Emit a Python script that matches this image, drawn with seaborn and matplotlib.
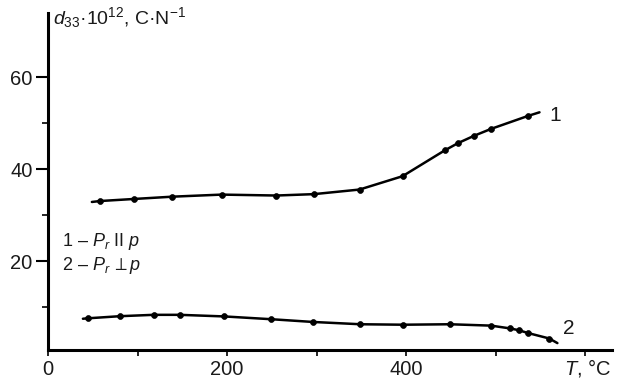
import matplotlib
matplotlib.use("Agg")
import matplotlib.pyplot as plt
import seaborn as sns
import pandas as pd
from matplotlib.ticker import FixedLocator

# ---- data ----
t1 = [58, 96, 139, 194, 255, 297, 348, 396, 443, 458, 476, 495, 536]
d1 = [33.1, 33.55, 34.05, 34.5, 34.3, 34.6, 35.6, 38.5, 44.1, 45.7, 47.3, 48.8, 51.6]
t1_ends = [49, 549]          # where the drawn curve starts / ends
d1_ends = [32.9, 52.4]

t2 = [45, 80, 118, 147, 197, 249, 296, 349, 397, 449, 495, 516, 526, 536, 560]
d2 = [7.6, 8.05, 8.35, 8.35, 8.0, 7.4, 6.8, 6.3, 6.2, 6.3, 6.0, 5.4, 5.0, 4.4, 3.2]
t2_ends = [39, 569]
d2_ends = [7.5, 2.2]

x_ticks = [0, 100, 200, 300, 400, 500, 600]
x_tick_labels = ["0", "", "200", "", "400", "", ""]
y_major = [20, 40, 60]
y_minor = [10, 30, 50]

sns.set_theme(style="ticks")
plt.rcParams["font.family"] = ["Liberation Sans", "DejaVu Sans"]
plt.rcParams["mathtext.fontset"] = "custom"
plt.rcParams["mathtext.rm"] = "Liberation Sans"
plt.rcParams["mathtext.it"] = "Liberation Sans:italic"
plt.rcParams["mathtext.bf"] = "Liberation Sans:bold"
plt.rcParams["mathtext.fallback"] = "stixsans"

fig = plt.figure(figsize=(6.17, 3.80), dpi=100)
ax = fig.add_axes([48/617, 1-350/380, (612-48)/617, (350-13)/380])

def curve(t, d, te, de):
    tt = [te[0]] + list(t) + [te[1]]
    dd = [de[0]] + list(d) + [de[1]]
    df = pd.DataFrame({"T": tt, "d": dd})
    sns.lineplot(data=df, x="T", y="d", ax=ax, color="black", lw=1.8,
                 sort=False, estimator=None)
    dfp = pd.DataFrame({"T": t, "d": d})
    sns.scatterplot(data=dfp, x="T", y="d", ax=ax, color="black", s=18,
                    edgecolor="black", linewidth=0.5, zorder=3)

curve(t1, d1, t1_ends, d1_ends)
curve(t2, d2, t2_ends, d2_ends)

ax.set_xlim(0, 630)
ax.set_ylim(0.7, 74)
ax.set_xlabel("")
ax.set_ylabel("")

for s in ["top", "right"]:
    ax.spines[s].set_visible(False)
for s in ["left", "bottom"]:
    ax.spines[s].set_linewidth(2.2)
    ax.spines[s].set_color("black")

ax.xaxis.set_major_locator(FixedLocator(x_ticks))
ax.set_xticklabels(x_tick_labels)
ax.yaxis.set_major_locator(FixedLocator(y_major))
ax.yaxis.set_minor_locator(FixedLocator(y_minor))
ax.tick_params(axis="x", which="major", length=4, width=1.2, color="black",
               labelsize=14.5, pad=3, labelcolor="#1a1a1a")
ax.tick_params(axis="y", which="major", length=9, width=1.5, color="black",
               labelsize=14.5, pad=2, labelcolor="#1a1a1a")
ax.tick_params(axis="y", which="minor", length=4, width=1.2, color="black")

fig.text(611/617, 1-368/380, r"$T$, °C", fontsize=14.5, va="center",
         ha="right", color="#1a1a1a")

fig.text(53/617, 1-18/380, r"$d_{\mathit{33}}$·10$^{12}$, C·N$^{-1}$",
         fontsize=14, va="center", ha="left", color="#1a1a1a")

fig.text(62/617, 1-241/380, r"1 – $P_r$ II $p$", fontsize=13,
         va="center", ha="left", color="#1a1a1a")
fig.text(62/617, 1-266/380, r"2 – $P_r\,{\perp}p$", fontsize=13,
         va="center", ha="left", color="#1a1a1a")

ax.text(560, 51.8, "1", fontsize=15, va="center", ha="left", color="#1a1a1a")
ax.text(575, 5.4, "2", fontsize=15, va="center", ha="left", color="#1a1a1a")

fig.savefig("out.png", dpi=100)
